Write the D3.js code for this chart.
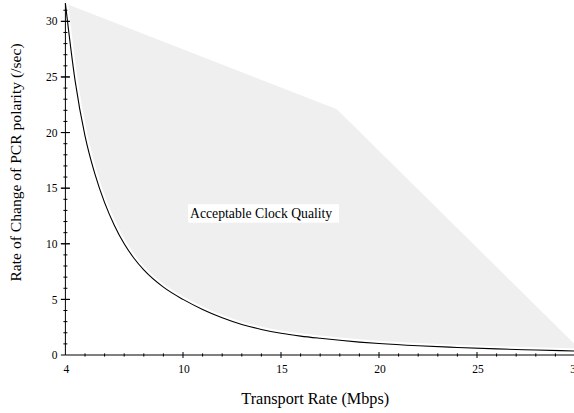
<!DOCTYPE html>
<html>
<head>
<meta charset="utf-8">
<script src="https://cdn.jsdelivr.net/npm/d3@7"></script>
<style>
  body { margin: 0; background: #fff; }
</style>
</head>
<body>
<div id="chart"></div>
<script>
var svgWidth = 574;
var svgHeight = 413;

// transport rate (Mbps) vs max rate of change of PCR polarity (/sec)
var rateX = [4, 4.5, 5, 5.5, 6, 6.5, 7, 7.5, 8, 9, 10, 11, 12, 13, 14, 15, 16, 17, 18, 19, 20, 22, 24, 26, 28, 30];
var rateY = [31.6, 24.6, 19.7, 16.3, 13.7, 11.65, 10.0, 8.7, 7.65, 6.1, 5.0, 4.1, 3.35, 2.75, 2.3, 1.95, 1.7, 1.5, 1.32, 1.16, 1.03, 0.83, 0.68, 0.55, 0.45, 0.36];

// upper edge of the acceptable region
var regionX = [4, 17.85, 30];
var regionY = [31.6, 22.1, 0.95];

var xLabels = [4, 10, 15, 20, 25, 30];
var yLabels = [0, 5, 10, 15, 20, 25, 30];
var xMinor = d3.range(5, 31, 1);
var yMinor = d3.range(1, 32, 1);

var plot = { left: 65.4, right: 575, top: 3, bottom: 355 };
var serif = "'Liberation Serif', 'Times New Roman', Times, 'DejaVu Serif', serif";

var svg = d3.select("#chart")
  .append("svg")
  .attr("width", svgWidth)
  .attr("height", svgHeight)
  .attr("font-family", serif);

var xScale = d3.scaleLinear()
  .domain([4, 30])
  .range([plot.left, plot.right]);

var yScale = d3.scaleLinear()
  .domain([0, 31.65])
  .range([plot.bottom, plot.top]);

var pts = rateX.map((x, i) => [x, rateY[i]]);
var upper = regionX.map((x, i) => [x, regionY[i]]);

// grey region: upper edge, then back along the curve
var regionPts = upper.concat(pts.slice().reverse());
svg.append("path")
  .attr("d", d3.line().x(d => xScale(d[0])).y(d => yScale(d[1]))(regionPts) + "Z")
  .attr("fill", "#efefef");

var curve = d3.line()
  .x(d => xScale(d[0]))
  .y(d => yScale(d[1]))
  .curve(d3.curveMonotoneX);

svg.append("path")
  .attr("d", curve(pts))
  .attr("fill", "none")
  .attr("stroke", "#fff")
  .attr("stroke-width", 5.5);

svg.append("path")
  .attr("d", curve(pts))
  .attr("fill", "none")
  .attr("stroke", "#000")
  .attr("stroke-width", 1.1);

// annotation
var ann = svg.append("g")
  .attr("transform", `translate(${xScale(10.36)}, ${yScale(12.3)})`);
ann.append("rect")
  .attr("x", -2).attr("y", -14)
  .attr("width", 151).attr("height", 18.5)
  .attr("fill", "#fff");
ann.append("text")
  .attr("font-size", 13.7)
  .text("Acceptable Clock Quality");

// x axis
var xAxis = svg.append("g")
  .attr("transform", `translate(0, ${plot.bottom})`);
xAxis.append("line")
  .attr("x1", plot.left).attr("x2", plot.right)
  .attr("stroke", "#000");
xAxis.selectAll(".minor")
  .data(xMinor)
  .enter()
  .append("line")
  .attr("x1", d => xScale(d)).attr("x2", d => xScale(d))
  .attr("y1", d => xLabels.includes(d) ? -3 : -1.6)
  .attr("y2", d => xLabels.includes(d) ? 3 : 1.6)
  .attr("stroke", "#000");
xAxis.selectAll(".lab")
  .data(xLabels)
  .enter()
  .append("text")
  .attr("x", d => xScale(d) + 1)
  .attr("y", 17.5)
  .attr("text-anchor", "middle")
  .attr("font-size", 11.5)
  .text(d => d);

// y axis
var yAxis = svg.append("g")
  .attr("transform", `translate(${plot.left}, 0)`);
yAxis.append("line")
  .attr("y1", plot.bottom).attr("y2", plot.top)
  .attr("stroke", "#000");
yAxis.selectAll(".minor")
  .data(yLabels.concat(yMinor))
  .enter()
  .append("line")
  .attr("y1", d => yScale(d)).attr("y2", d => yScale(d))
  .attr("x1", d => yLabels.includes(d) ? -4.5 : -2)
  .attr("x2", d => d === 0 ? 0 : (yLabels.includes(d) ? 4.5 : 2))
  .attr("stroke", "#000");
yAxis.selectAll(".lab")
  .data(yLabels)
  .enter()
  .append("text")
  .attr("x", -8)
  .attr("y", d => yScale(d))
  .attr("dy", "0.36em")
  .attr("text-anchor", "end")
  .attr("font-size", 11.5)
  .text(d => d);

// axis titles
svg.append("text")
  .attr("transform", `translate(${(plot.left + plot.right) / 2 - 5}, 404)`)
  .attr("text-anchor", "middle")
  .attr("font-size", 16.2)
  .text("Transport Rate (Mbps)");

svg.append("text")
  .attr("transform", "translate(21, 162.5) rotate(-90)")
  .attr("text-anchor", "middle")
  .attr("font-size", 15.6)
  .text("Rate of Change of PCR polarity (/sec)");
</script>
</body>
</html>
